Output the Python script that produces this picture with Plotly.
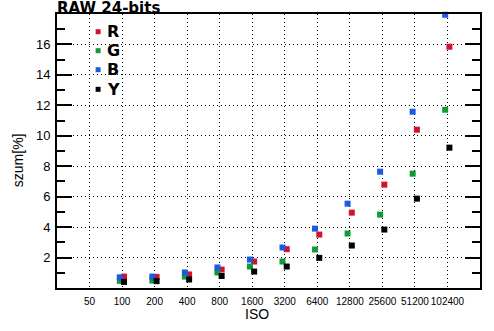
import math
import plotly.graph_objects as go

# ---- data ----
iso = [100, 200, 400, 800, 1600, 3200, 6400, 12800, 25600, 51200, 102400]
noise_r = [0.75, 0.73, 0.89, 1.21, 1.74, 2.55, 3.51, 4.95, 6.79, 10.40, 15.85]
noise_g = [0.47, 0.49, 0.75, 1.02, 1.41, 1.74, 2.53, 3.58, 4.82, 7.51, 11.71]
noise_b = [0.70, 0.75, 1.02, 1.35, 1.87, 2.66, 3.90, 5.54, 7.64, 11.58, 17.95]
noise_y = [0.40, 0.45, 0.56, 0.79, 1.08, 1.41, 1.98, 2.79, 3.84, 5.87, 9.22]
series_names = ["R", "G", "B", "Y"]
x_tick_vals = [50, 100, 200, 400, 800, 1600, 3200, 6400, 12800, 25600, 51200, 102400]
y_tick_vals = [2, 4, 6, 8, 10, 12, 14, 16]
y_minor_vals = [1, 3, 5, 7, 9, 11, 13, 15, 17]

# ---- style ----
colors = {"R": "#d0142f", "G": "#129a3a", "B": "#1a5be0", "Y": "#000000"}
offsets = {"R": 0.06, "G": -0.07, "B": -0.07, "Y": 0.06}  # small horizontal shift (in doublings)
W, H = 494, 331
ML, MR, MT, MB = 57, 12, 14, 43
PW, PH = W - ML - MR, H - MT - MB

def px(xp):
    return (xp - ML) / PW

def py(yp):
    return (H - MB - yp) / PH

values = {"R": noise_r, "G": noise_g, "B": noise_b, "Y": noise_y}

fig = go.Figure()
for name in series_names:
    f = 2 ** offsets[name]
    fig.add_trace(go.Scatter(
        x=[v * f for v in iso], y=values[name], mode="markers", name=name,
        marker=dict(symbol="square", size=6, color=colors[name], line=dict(width=0)),
        cliponaxis=False, showlegend=False,
    ))

axis_font = "Liberation Sans, Arial, sans-serif"
fig.update_layout(
    width=W, height=H,
    margin=dict(l=ML, r=MR, t=MT, b=MB),
    paper_bgcolor="white", plot_bgcolor="white",
    xaxis=dict(
        type="log", range=[math.log10(25), math.log10(204800)],
        tickmode="array", tickvals=x_tick_vals, ticktext=[str(v) for v in x_tick_vals],
        tickangle=0,
        ticks="", showline=True, linecolor="black", linewidth=2, mirror=True,
        showgrid=True, gridcolor="black", gridwidth=1, griddash="1px,3px",
        zeroline=False, tickfont=dict(family=axis_font, size=10, color="black"),
        ticklabelstandoff=3,
    ),
    yaxis=dict(
        range=[0, 18], tickmode="array", tickvals=y_tick_vals,
        ticks="inside", ticklen=15, tickwidth=1.5, tickcolor="black",
        minor=dict(tickmode="array", tickvals=y_minor_vals, ticks="inside", ticklen=8,
                   tickwidth=1.5, tickcolor="black", showgrid=False),
        showline=True, linecolor="black", linewidth=2, mirror="ticks",
        showgrid=True, gridcolor="black", gridwidth=1, griddash="1px,3px",
        zeroline=False, tickfont=dict(family=axis_font, size=13, color="black"),
        ticklabelstandoff=2,
    ),
    showlegend=False,
)

annotations = [
    dict(text="<b>RAW 24-bits</b>", xref="paper", yref="paper", x=0, y=1,
         xanchor="left", yanchor="top", yshift=16.5, xshift=-1, borderpad=0, showarrow=False,
         font=dict(family="DejaVu Sans", size=15, color="black")),
    dict(text="ISO", xref="paper", yref="paper", x=px(258), y=py(313.5),
         xanchor="center", yanchor="middle", showarrow=False,
         font=dict(family=axis_font, size=14, color="black")),
    dict(text="szum[%]", xref="paper", yref="paper", x=px(17.5), y=py(160.5),
         xanchor="center", yanchor="middle", textangle=-90, showarrow=False,
         font=dict(family=axis_font, size=14, color="black")),
]
shapes = []
legend_y = [31.7, 50.7, 69.7, 89.3]
for name, ly in zip(series_names, legend_y):
    shapes.append(dict(type="rect", xref="paper", yref="paper",
                       x0=px(98.3 - 2.5), x1=px(98.3 + 2.5), y0=py(ly + 2.5), y1=py(ly - 2.5),
                       fillcolor=colors[name], line=dict(width=0)))
    annotations.append(dict(text="<b>%s</b>" % name, xref="paper", yref="paper",
                            x=px(105), y=py(ly), xanchor="left", yanchor="middle",
                            showarrow=False,
                            font=dict(family="DejaVu Sans", size=16, color="black")))
fig.update_layout(annotations=annotations, shapes=shapes)

fig.write_html("out.html")
